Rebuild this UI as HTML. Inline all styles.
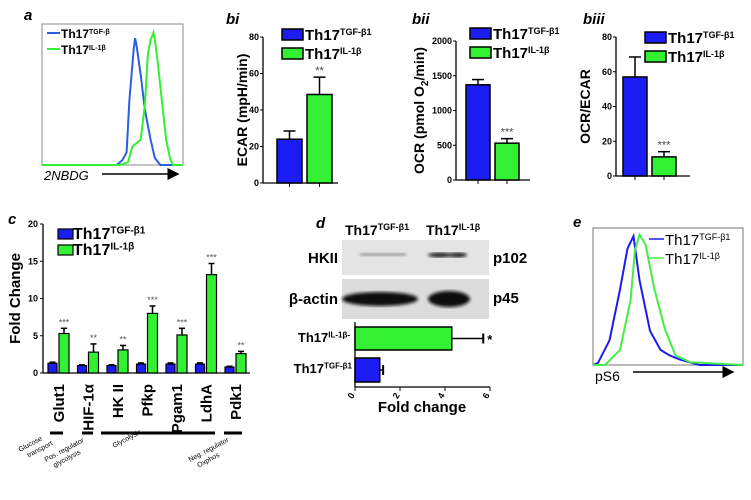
<!DOCTYPE html>
<html><head><meta charset="utf-8"><style>
html,body{margin:0;padding:0;background:#fff;}
svg{display:block;font-family:"Liberation Sans",Arial,sans-serif;}
</style></head><body>
<svg id="fig" width="751" height="500" viewBox="0 0 751 500" xmlns="http://www.w3.org/2000/svg">
<defs>
<marker id="arr" markerWidth="8" markerHeight="8" refX="7" refY="4" orient="auto"><path d="M0,0 L8,4 L0,8 z" fill="#000"/></marker>
<filter id="blur"><feGaussianBlur stdDeviation="1.5"/></filter>
</defs>
<g id="root"></g>
</svg>
<script>
// ---------- data ----------
var histA_blueX=[0,53,57,60,62,65,66,67,70,73,77,80,84,100];
var histA_blueC=[0,0,3.5,9,46,82,90,85,64,39,18,5,0,0];
var histA_greenX=[0,55,61,64,70,73,75,77,78,79,80,82,85,88,91,93,100];
var histA_greenC=[0,0,2,13,18,43,78,89,91,94,89,74,46,18,4,0,0];
var histE_blueX=[0,3.3,11,18,23,27,31,38,45,51,58,71,100];
var histE_blueC=[0,1.5,18,55,85,94,62,25,11,7,4,0,0];
var histE_greenX=[0,8,18,25,28,31,35,41,48,55,65,100];
var histE_greenC=[0,0,11,47,84,95,88,55,26,7,2,0];
var ecarVals=[24,48.5], ecarErr=[4.5,9.5];
var ocrVals=[1370,530], ocrErr=[75,65];
var ratioVals=[57,11], ratioErr=[11.5,3];
var genes=["Glut1","HIF-1\u03b1","HK II","Pfkp","Pgam1","LdhA","Pdk1"];
var geneBlue=[1.3,1.0,1.0,1.2,1.2,1.2,0.8];
var geneBlueErr=[0.15,0.1,0.1,0.15,0.15,0.15,0.1];
var geneGreen=[5.3,2.8,3.1,8.0,5.1,13.2,2.6];
var geneGreenErr=[0.7,1.1,0.6,1.0,0.9,1.5,0.3];
var geneStars=["***","**","**","***","***","***","**"];
var cTicks=[0,5,10,15,20];
var foldVals=[4.3,1.1], foldErr=[1.4,0.15];
var dTicks=[0,2,4,6];

var BLUE="#1c1cf5", GREEN="#33f033";
var NS="http://www.w3.org/2000/svg";
var root=document.getElementById('root');
function mk(tag,attrs,parent,txt){var e=document.createElementNS(NS,tag);for(var k in attrs)e.setAttribute(k,attrs[k]);if(txt!==undefined)e.textContent=txt;(parent||root).appendChild(e);return e;}
function lin(d0,d1,r0,r1){return function(v){return r0+(v-d0)/(d1-d0)*(r1-r0);};}
function thText(parent,x,y,sup,size,bold,anchor){
  var t=mk('text',{x:x,y:y,'font-size':size,'font-weight':bold?'bold':'normal','text-anchor':anchor||'start'},parent);
  var a=mk('tspan',{},t,'Th17');
  var b=mk('tspan',{'font-size':Math.round(size*0.62),dy:-size*0.35},t,sup);
  return t;
}

// ---------- panel a ----------
var ga=mk('g',{});  
mk('text',{x:24,y:20,'font-size':15,'font-weight':'bold','font-style':'italic'},ga,'a');
mk('rect',{x:42,y:24,width:141,height:141,fill:'none',stroke:'#888','stroke-width':1},ga);
function hist(g,X,C,x0,x1,y0,y1,col,name){
  var sx=lin(0,100,x0,x1), sy=lin(0,100,y0,y1), p=[];
  for(var i=0;i<X.length;i++)p.push(sx(X[i]).toFixed(1)+','+sy(C[i]).toFixed(1));
  var pl=mk('polyline',{points:p.join(' '),fill:'none',stroke:col,'stroke-width':2},g);
  
  
}
hist(ga,histA_blueX,histA_blueC,42,183,165,24,'#2a5fe0','hist-a-tgf');
hist(ga,histA_greenX,histA_greenC,42,183,165,24,'#33f033','hist-a-il1b');
mk('line',{x1:47,y1:33,x2:60,y2:33,stroke:'#2a5fe0','stroke-width':2},ga);
thText(ga,61,38,'TGF-\u03b2',12,true);
mk('line',{x1:47,y1:49,x2:60,y2:49,stroke:'#33f033','stroke-width':2},ga);
thText(ga,61,54,'IL-1\u03b2',12,true);
mk('text',{x:44,y:180,'font-size':13,'font-style':'italic'},ga,'2NBDG');
mk('line',{x1:102,y1:174,x2:178,y2:174,stroke:'#000','stroke-width':1.5,'marker-end':'url(#arr)'},ga);

// ---------- bar panels b ----------
function barPanel(o){
  var g=mk('g',{});  
  mk('text',{x:o.lx,y:o.ly,'font-size':15,'font-weight':'bold','font-style':'italic'},g,o.label);
  var sy=lin(0,o.max,o.y0,o.y1);
  mk('line',{x1:o.ax,y1:o.y1,x2:o.ax,y2:o.y0,stroke:'#000','stroke-width':1.3},g);
  mk('line',{x1:o.ax,y1:o.y0,x2:o.axEnd,y2:o.y0,stroke:'#000','stroke-width':1.3},g);
  for(var i=0;i<o.ticks.length;i++){var y=sy(o.ticks[i]);
    mk('line',{x1:o.ax-3,y1:y,x2:o.ax,y2:y,stroke:'#000'},g);
    mk('text',{x:o.ax-4,y:y+3,'font-size':9,'font-weight':'bold','text-anchor':'end'},g,o.ticks[i]);}
  var cols=[BLUE,GREEN];
  for(var j=0;j<2;j++){
    var x=o.bx[j], top=sy(o.vals[j]), et=sy(o.vals[j]+o.err[j]);
    mk('line',{x1:x+o.bw/2,y1:top,x2:x+o.bw/2,y2:et,stroke:'#000','stroke-width':1.5},g);
    mk('line',{x1:x+o.bw/2-6,y1:et,x2:x+o.bw/2+6,y2:et,stroke:'#000','stroke-width':1.5},g);
    var r=mk('rect',{x:x,y:top,width:o.bw,height:o.y0-top,fill:cols[j],stroke:'#000','stroke-width':1.5},g);
    
    
    mk('line',{x1:x+o.bw/2,y1:o.y0,x2:x+o.bw/2,y2:o.y0+4,stroke:'#000'},g);
  }
  mk('text',{x:o.bx[1]+o.bw/2,y:sy(o.vals[1]+o.err[1])-3,'font-size':11,'text-anchor':'middle',fill:'#444'},g,o.star);
  var cy=(o.y0+o.y1)/2;
  var yl=mk('text',{x:o.ylx,y:cy,'font-size':14,'font-weight':'bold','text-anchor':'middle',transform:'rotate(-90 '+o.ylx+' '+cy+')'},g);
  yl.innerHTML=o.ylab;
  mk('rect',{x:o.legx,y:o.legy,width:21,height:11,fill:BLUE,stroke:'#000','stroke-width':1.5},g);
  thText(g,o.legx+23,o.legy+11,'TGF-\u03b21',15,true);
  mk('rect',{x:o.legx,y:o.legy+19,width:21,height:11,fill:GREEN,stroke:'#000','stroke-width':1.5},g);
  thText(g,o.legx+23,o.legy+30,'IL-1\u03b2',15,true);
}
barPanel({name:'panel-bi',label:'bi',lx:226,ly:24,ax:263,axEnd:338,y0:183,y1:37,max:80,ticks:[0,20,40,60,80],bx:[277,307],bw:25,vals:ecarVals,err:ecarErr,star:'**',ylx:247,ylab:'ECAR (mpH/min)',legx:282,legy:29});
barPanel({name:'panel-bii',label:'bii',lx:412,ly:24,ax:456,axEnd:530,y0:180,y1:41,max:2000,ticks:[0,500,1000,1500,2000],bx:[466,495],bw:24,vals:ocrVals,err:ocrErr,star:'***',ylx:424,ylab:'OCR (pmol O<tspan font-size="10" dy="4">2</tspan><tspan dy="-4">/min)</tspan>',legx:470,legy:28});
barPanel({name:'panel-biii',label:'biii',lx:583,ly:24,ax:616,axEnd:690,y0:176,y1:37,max:80,ticks:[0,20,40,60,80],bx:[623,652],bw:24,vals:ratioVals,err:ratioErr,star:'***',ylx:590,ylab:'OCR/ECAR',legx:645,legy:32});

// ---------- panel c ----------
(function(){
  var g=mk('g',{});  
  mk('text',{x:8,y:224,'font-size':15,'font-weight':'bold','font-style':'italic'},g,'c');
  var ax=43,y0=373,y1=224,sy=lin(0,20,y0,y1);
  mk('line',{x1:ax,y1:y1,x2:ax,y2:y0,stroke:'#000','stroke-width':1.3},g);
  mk('line',{x1:ax,y1:y0,x2:250,y2:y0,stroke:'#000','stroke-width':1.3},g);
  for(var i=0;i<cTicks.length;i++){var y=sy(cTicks[i]);
    mk('line',{x1:ax-3,y1:y,x2:ax,y2:y,stroke:'#000'},g);
    mk('text',{x:ax-5,y:y+3,'font-size':9,'font-weight':'bold','text-anchor':'end'},g,cTicks[i]);}
  var cy=(y0+y1)/2;
  mk('text',{x:20,y:cy,'font-size':15,'font-weight':'bold','text-anchor':'middle',transform:'rotate(-90 20 '+cy+')'},g,'Fold Change');
  for(var k=0;k<genes.length;k++){
    var cx=58+k*29.5, bxs=[cx-10,cx+1], vals=[geneBlue[k],geneGreen[k]], errs=[geneBlueErr[k],geneGreenErr[k]], cols=[BLUE,GREEN];
    for(var j=0;j<2;j++){
      var top=sy(vals[j]), et=sy(vals[j]+errs[j]), bw=9+j;
      mk('line',{x1:bxs[j]+bw/2,y1:top,x2:bxs[j]+bw/2,y2:et,stroke:'#000','stroke-width':1.5},g);
      mk('line',{x1:bxs[j]+bw/2-3,y1:et,x2:bxs[j]+bw/2+3,y2:et,stroke:'#000','stroke-width':1.5},g);
      var r=mk('rect',{x:bxs[j],y:top,width:bw,height:y0-top,fill:cols[j],stroke:'#000','stroke-width':1.2},g);
      
      
    }
    mk('text',{x:cx+6,y:sy(geneGreen[k]+geneGreenErr[k])-3,'font-size':9,fill:'#555','text-anchor':'middle'},g,geneStars[k]);
    mk('text',{x:cx+6,y:384,'font-size':15,'font-weight':'bold','text-anchor':'end',transform:'rotate(-90 '+(cx+6)+' 384)'},g,genes[k]);
  }
  mk('rect',{x:58,y:229,width:15,height:10,fill:BLUE,stroke:'#000','stroke-width':1.2},g);
  thText(g,73,239,'TGF-\u03b21',16,true);
  mk('rect',{x:58,y:245,width:15,height:10,fill:GREEN,stroke:'#000','stroke-width':1.2},g);
  thText(g,73,255,'IL-1\u03b2',16,true);
  var segs=[[50,63],[82,93],[101,215],[224,242]];
  for(var s=0;s<segs.length;s++)mk('line',{x1:segs[s][0],y1:433,x2:segs[s][1],y2:433,stroke:'#000','stroke-width':3},g);
  var cats=[[20,452,'Glucose','transport'],[46,462,'Pos. regulator','glycolysis'],[114,448,'Glycolysis',''],[190,462,'Neg. regulator','Oxphos']];
  for(var c=0;c<cats.length;c++){
    var t=mk('text',{x:cats[c][0],y:cats[c][1],'font-size':7,transform:'rotate(-28 '+cats[c][0]+' '+cats[c][1]+')'},g,cats[c][2]);
    if(cats[c][3])mk('text',{x:cats[c][0]+5,y:cats[c][1]+9,'font-size':7,transform:'rotate(-28 '+cats[c][0]+' '+cats[c][1]+')'},g,cats[c][3]);
  }
})();

// ---------- panel d ----------
(function(){
  var g=mk('g',{});  
  mk('text',{x:316,y:228,'font-size':15,'font-weight':'bold','font-style':'italic'},g,'d');
  thText(g,345,235,'TGF-\u03b21',14,true);
  thText(g,426,235,'IL-1\u03b2',14,true);
  var b1=mk('rect',{x:342,y:240,width:147,height:35,fill:'#e4e4e4'},g);
   
  var b2=mk('rect',{x:342,y:279,width:147,height:40,fill:'#dcdcdc'},g);
   
  mk('rect',{x:360,y:253,width:46,height:3,fill:'#999',filter:'url(#blur)'},g);
  mk('ellipse',{cx:440,cy:255,rx:12,ry:2.5,fill:'#222',filter:'url(#blur)'},g);
  mk('ellipse',{cx:458,cy:255,rx:9,ry:2.5,fill:'#222',filter:'url(#blur)'},g);
  mk('ellipse',{cx:380,cy:299,rx:38,ry:7,fill:'#111',filter:'url(#blur)'},g);
  mk('ellipse',{cx:449,cy:299,rx:21,ry:8,fill:'#111',filter:'url(#blur)'},g);
  mk('text',{x:338,y:263,'font-size':15,'font-weight':'bold','text-anchor':'end'},g,'HKII');
  mk('text',{x:338,y:304,'font-size':15,'font-weight':'bold','text-anchor':'end'},g,'\u03b2-actin');
  mk('text',{x:493,y:263,'font-size':15,'font-weight':'bold'},g,'p102');
  mk('text',{x:493,y:303,'font-size':15,'font-weight':'bold'},g,'p45');
  var sx=lin(0,6,355,490), ys=[[327,350],[358,382]], cols=[GREEN,BLUE];
  mk('line',{x1:355,y1:322,x2:355,y2:387,stroke:'#000','stroke-width':1.3},g);
  mk('line',{x1:355,y1:387,x2:490,y2:387,stroke:'#000','stroke-width':1.3},g);
  for(var i=0;i<dTicks.length;i++){var x=sx(dTicks[i]);
    mk('line',{x1:x,y1:387,x2:x,y2:391,stroke:'#000'},g);
    mk('text',{x:x,y:395,'font-size':9,'font-weight':'bold','text-anchor':'end',transform:'rotate(-60 '+x+' 395)'},g,dTicks[i]);}
  for(var j=0;j<2;j++){
    var xe=sx(foldVals[j]), xr=sx(foldVals[j]+foldErr[j]), my=(ys[j][0]+ys[j][1])/2;
    mk('line',{x1:xe,y1:my,x2:xr,y2:my,stroke:'#000','stroke-width':1.5},g);
    mk('line',{x1:xr,y1:my-5,x2:xr,y2:my+5,stroke:'#000','stroke-width':2},g);
    var r=mk('rect',{x:355,y:ys[j][0],width:xe-355,height:ys[j][1]-ys[j][0],fill:cols[j],stroke:'#000','stroke-width':1.5},g);
    
    
  }
  mk('text',{x:sx(foldVals[0]+foldErr[0])+4,y:344,'font-size':13,'font-weight':'bold'},g,'*');
  thText(g,350,342,'IL-1\u03b2-',13,true,'end');
  thText(g,352,373,'TGF-\u03b21',13,true,'end');
  mk('text',{x:422,y:412,'font-size':15,'font-weight':'bold','text-anchor':'middle'},g,'Fold change');
})();

// ---------- panel e ----------
(function(){
  var g=mk('g',{});  
  mk('text',{x:573,y:227,'font-size':15,'font-weight':'bold','font-style':'italic'},g,'e');
  mk('rect',{x:593,y:228,width:150,height:137,fill:'none',stroke:'#777','stroke-width':1},g);
  hist(g,histE_blueX,histE_blueC,593,743,365,228,'#1c1cf0','hist-e-tgf');
  hist(g,histE_greenX,histE_greenC,593,743,365,228,'#44ee44','hist-e-il1b');
  mk('line',{x1:649,y1:239,x2:664,y2:239,stroke:'#1c1cf0','stroke-width':1.5},g);
  thText(g,665,245,'TGF-\u03b21',15,false);
  mk('line',{x1:649,y1:258,x2:664,y2:258,stroke:'#44ee44','stroke-width':1.5},g);
  thText(g,665,264,'IL-1\u03b2',15,false);
  mk('text',{x:595,y:381,'font-size':14},g,'pS6');
  mk('line',{x1:633,y1:372,x2:733,y2:372,stroke:'#000','stroke-width':1.5,'marker-end':'url(#arr)'},g);
})();
</script>
</body></html>
